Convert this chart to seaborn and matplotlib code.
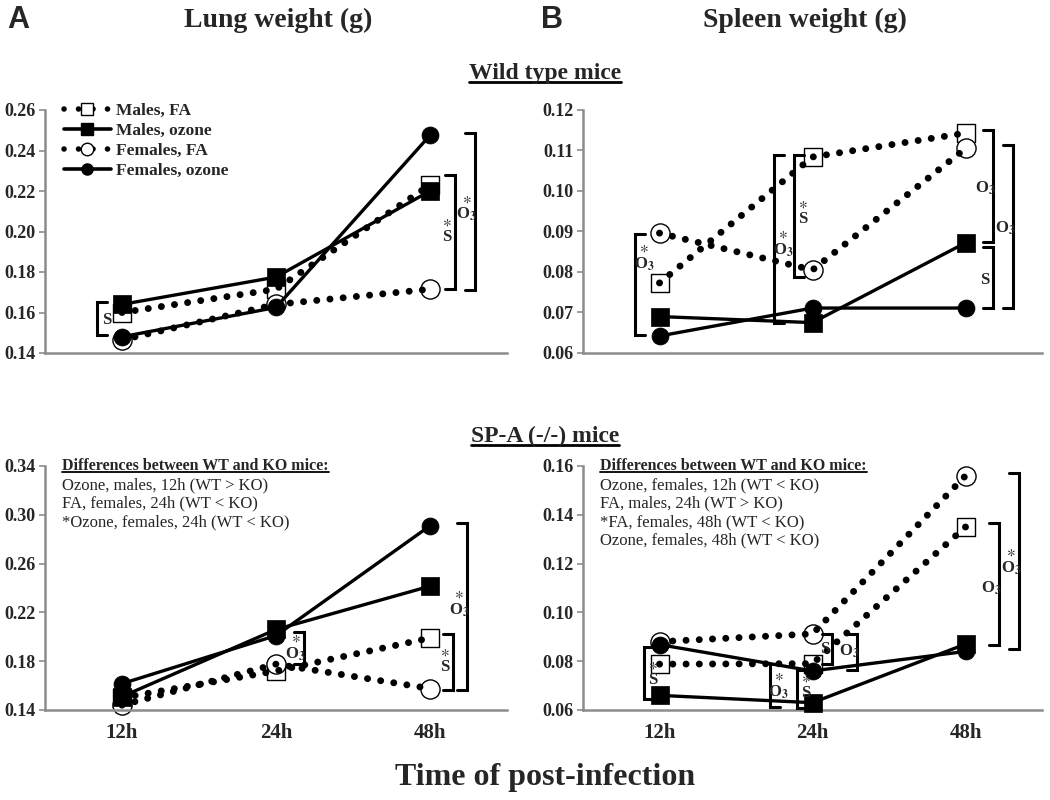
import pandas as pd
import seaborn as sns
import matplotlib.pyplot as plt
from matplotlib.lines import Line2D

sns.set_style('ticks')
plt.rcParams['font.family'] = ['Liberation Serif', 'DejaVu Serif']
plt.rcParams['mathtext.fontset'] = 'stix'

times = ['12h', '24h', '48h']
groups = ['Males, FA', 'Males, ozone', 'Females, FA', 'Females, ozone']

# values (g)
lung_wt_m_fa = [0.160, 0.1715, 0.223]
lung_wt_m_oz = [0.164, 0.1775, 0.220]
lung_wt_f_fa = [0.1465, 0.164, 0.1715]
lung_wt_f_oz = [0.148, 0.1625, 0.2475]

spleen_wt_m_fa = [0.0773, 0.1084, 0.1143]
spleen_wt_m_oz = [0.0690, 0.0675, 0.0872]
spleen_wt_f_fa = [0.0896, 0.0805, 0.1105]
spleen_wt_f_oz = [0.0642, 0.0711, 0.0711]

lung_ko_m_fa = [0.150, 0.172, 0.199]
lung_ko_m_oz = [0.151, 0.206, 0.2415]
lung_ko_f_fa = [0.144, 0.1776, 0.1576]
lung_ko_f_oz = [0.1616, 0.201, 0.291]

spleen_ko_m_fa = [0.0788, 0.0790, 0.135]
spleen_ko_m_oz = [0.0660, 0.0630, 0.0870]
spleen_ko_f_fa = [0.0880, 0.0912, 0.156]
spleen_ko_f_oz = [0.0868, 0.0760, 0.0840]

ko_notes_lung = ['Ozone, males, 12h (WT > KO)',
                 'FA, females, 24h (WT < KO)',
                 '*Ozone, females, 24h (WT < KO)']
ko_notes_spleen = ['Ozone, females, 12h (WT < KO)',
                   'FA, males, 24h (WT > KO)',
                   '*FA, females, 48h (WT < KO)',
                   'Ozone, females, 48h (WT < KO)']

O3 = 'O$_\\mathbf{3}$'
ST = '$\\ast$\n'
# significance brackets: (x, y_low, y_high, side, label, label_y)
brackets_tl = [(-0.16, 0.149, 0.165, '[', 'S', 0.1563),
               (2.16, 0.1715, 0.228, ']', ST + 'S', 0.201),
               (2.29, 0.171, 0.2487, ']', ST + O3, 0.212)]
brackets_tr = [(-0.16, 0.0645, 0.0893, '[', ST + O3, 0.0837),
               (0.75, 0.0674, 0.1089, '[', ST + O3, 0.0872),
               (0.88, 0.0788, 0.1089, '[', ST + 'S', 0.0948),
               (2.18, 0.0875, 0.115, ']', O3, 0.1007),
               (2.31, 0.0711, 0.1113, ']', O3, 0.0909),
               (2.18, 0.0711, 0.0862, ']', 'S', 0.078)]
brackets_bl = [(1.18, 0.178, 0.204, ']', ST + O3, 0.192),
               (2.15, 0.156, 0.2025, ']', ST + 'S', 0.181),
               (2.24, 0.156, 0.2936, ']', ST + O3, 0.228)]
brackets_br = [(-0.10, 0.0644, 0.086, '[', ST + 'S', 0.0752),
               (0.72, 0.0612, 0.0788, '[', ST + O3, 0.0704),
               (0.90, 0.061, 0.0764, '[', ST + 'S', 0.070),
               (1.13, 0.0788, 0.0912, ']', 'S', 0.0848),
               (1.29, 0.0764, 0.0912, ']', O3, 0.084),
               (2.22, 0.0868, 0.1368, ']', O3, 0.110),
               (2.35, 0.0848, 0.157, ']', ST + O3, 0.1212)]

styles = {
    'Males, FA': dict(marker='s', fa=True),
    'Males, ozone': dict(marker='s', fa=False),
    'Females, FA': dict(marker='o', fa=True),
    'Females, ozone': dict(marker='o', fa=False),
}
DOTS = (0, (0.01, 1.9))

W, H = 1050, 800
fig = plt.figure(figsize=(10.5, 8), dpi=100)


def px_axes(l, t, r, b):
    return fig.add_axes([l / W, 1 - b / H, (r - l) / W, (b - t) / H])


def draw_panel(ax, series, ylim, step, brackets, xlabels):
    for g in groups:
        df = pd.DataFrame({'t': range(len(times)), 'w': series[g]})
        st = styles[g]
        if st['fa']:
            size = 190 if st['marker'] == 'o' else 170
            sns.scatterplot(data=df, x='t', y='w', ax=ax, marker=st['marker'], s=size,
                            facecolor='white', edgecolor='black', linewidth=1.0,
                            zorder=2, clip_on=False)
            sns.lineplot(data=df, x='t', y='w', ax=ax, color='black', lw=5,
                         linestyle=DOTS, dash_capstyle='round', errorbar=None,
                         zorder=3, clip_on=False)
        else:
            sns.lineplot(data=df, x='t', y='w', ax=ax, color='black', lw=2.4,
                         errorbar=None, zorder=4, clip_on=False)
            sns.scatterplot(data=df, x='t', y='w', ax=ax, marker=st['marker'], s=150,
                            color='black', edgecolor='black', linewidth=0.5,
                            zorder=5, clip_on=False)

    lo, hi = ylim
    span = hi - lo
    arm = 0.065
    for x, y0, y1, side, label, ly in brackets:
        d = -arm if side == ']' else arm
        ax.plot([x + d, x, x, x + d], [y1, y1, y0, y0], color='black', lw=2.2,
                solid_joinstyle='miter', clip_on=False, zorder=6)
        off = -8 if side == ']' else 9
        ax.annotate(label, (x, ly), xytext=(off, 0), textcoords='offset pixels',
                    ha='center', va='center', fontsize=12, fontweight='bold',
                    linespacing=0.9, zorder=7)

    ax.set_xlim(-0.5, 2.5)
    ax.set_ylim(lo, hi)
    n = int(round(span / step))
    ax.set_yticks([lo + i * step for i in range(n + 1)])
    ax.set_yticklabels([f'{lo + i * step:.2f}' for i in range(n + 1)],
                       fontsize=13, fontweight='bold')
    ax.set_xticks(range(len(times)))
    if xlabels:
        ax.set_xticklabels(times, fontsize=15, fontweight='bold')
    else:
        ax.set_xticklabels([])
    ax.tick_params(axis='x', length=0, pad=9)
    ax.tick_params(axis='y', length=4, width=1.2, color='#8c8c8c', pad=3)
    for s in ['top', 'right']:
        ax.spines[s].set_visible(False)
    for s in ['left', 'bottom']:
        ax.spines[s].set_color('#8c8c8c')
        ax.spines[s].set_linewidth(1.8)
    ax.set_xlabel('')
    ax.set_ylabel('')
    ax.patch.set_alpha(0)


ax_tl = px_axes(45, 110, 507, 353)
ax_tr = px_axes(583, 110, 1042, 353)
ax_bl = px_axes(45, 466, 507, 710)
ax_br = px_axes(583, 466, 1042, 710)

draw_panel(ax_tl, dict(zip(groups, [lung_wt_m_fa, lung_wt_m_oz, lung_wt_f_fa, lung_wt_f_oz])),
           (0.14, 0.26), 0.02, brackets_tl, False)
draw_panel(ax_tr, dict(zip(groups, [spleen_wt_m_fa, spleen_wt_m_oz, spleen_wt_f_fa, spleen_wt_f_oz])),
           (0.06, 0.12), 0.01, brackets_tr, False)
draw_panel(ax_bl, dict(zip(groups, [lung_ko_m_fa, lung_ko_m_oz, lung_ko_f_fa, lung_ko_f_oz])),
           (0.14, 0.34), 0.04, brackets_bl, True)
draw_panel(ax_br, dict(zip(groups, [spleen_ko_m_fa, spleen_ko_m_oz, spleen_ko_f_fa, spleen_ko_f_oz])),
           (0.06, 0.16), 0.02, brackets_br, True)

# legend
handles = []
for g in groups:
    st = styles[g]
    if st['fa']:
        handles.append(Line2D([], [], color='black', lw=4, linestyle=(0, (0.01, 2.6)),
                              dash_capstyle='round', marker=st['marker'], markersize=9,
                              markerfacecolor='white', markeredgecolor='black',
                              markeredgewidth=1.0))
    else:
        handles.append(Line2D([], [], color='black', lw=2.6, marker=st['marker'],
                              markersize=8, markerfacecolor='black'))
fig.legend(handles, groups, loc='upper left', bbox_to_anchor=(64 / W, 1 - 103 / H),
           bbox_transform=fig.transFigure, frameon=False, handlelength=2.7,
           handletextpad=0.3, labelspacing=0.22, borderaxespad=0, borderpad=0,
           prop=dict(family='Liberation Serif', weight='bold', size=12.5))


def ftext(x, y, s, **kw):
    return fig.text(x / W, 1 - y / H, s, **kw)


ftext(18, 20, 'A', fontsize=22, fontweight='bold', family='Liberation Sans', ha='center', va='center')
ftext(552, 20, 'B', fontsize=22, fontweight='bold', family='Liberation Sans', ha='center', va='center')
ftext(278, 20, 'Lung weight (g)', fontsize=20, fontweight='bold', ha='center', va='center')
ftext(805, 20, 'Spleen weight (g)', fontsize=20, fontweight='bold', ha='center', va='center')
ftext(545, 778, 'Time of post-infection', fontsize=23, fontweight='bold', ha='center', va='center')

underlined = []
underlined.append(ftext(545, 73, 'Wild type mice', fontsize=17, fontweight='bold', ha='center', va='center'))
underlined.append(ftext(545, 436, 'SP-A (-/-) mice', fontsize=17, fontweight='bold', ha='center', va='center'))

for x0, notes in [(62, ko_notes_lung), (600, ko_notes_spleen)]:
    underlined.append(ftext(x0, 466, 'Differences between WT and KO mice:', fontsize=11.5,
                            fontweight='bold', ha='left', va='center'))
    for i, line in enumerate(notes):
        ftext(x0, 485 + i * 18.5, line, fontsize=12, ha='left', va='center')

fig.canvas.draw()
renderer = fig.canvas.get_renderer()
for t in underlined:
    bb = t.get_window_extent(renderer).transformed(fig.transFigure.inverted())
    lw = 2.0 if t.get_fontsize() > 14 else 1.3
    fig.add_artist(Line2D([bb.x0, bb.x1], [bb.y0 + 0.002, bb.y0 + 0.002],
                          transform=fig.transFigure, color='black', lw=lw))

fig.savefig('out.png', dpi=100)
